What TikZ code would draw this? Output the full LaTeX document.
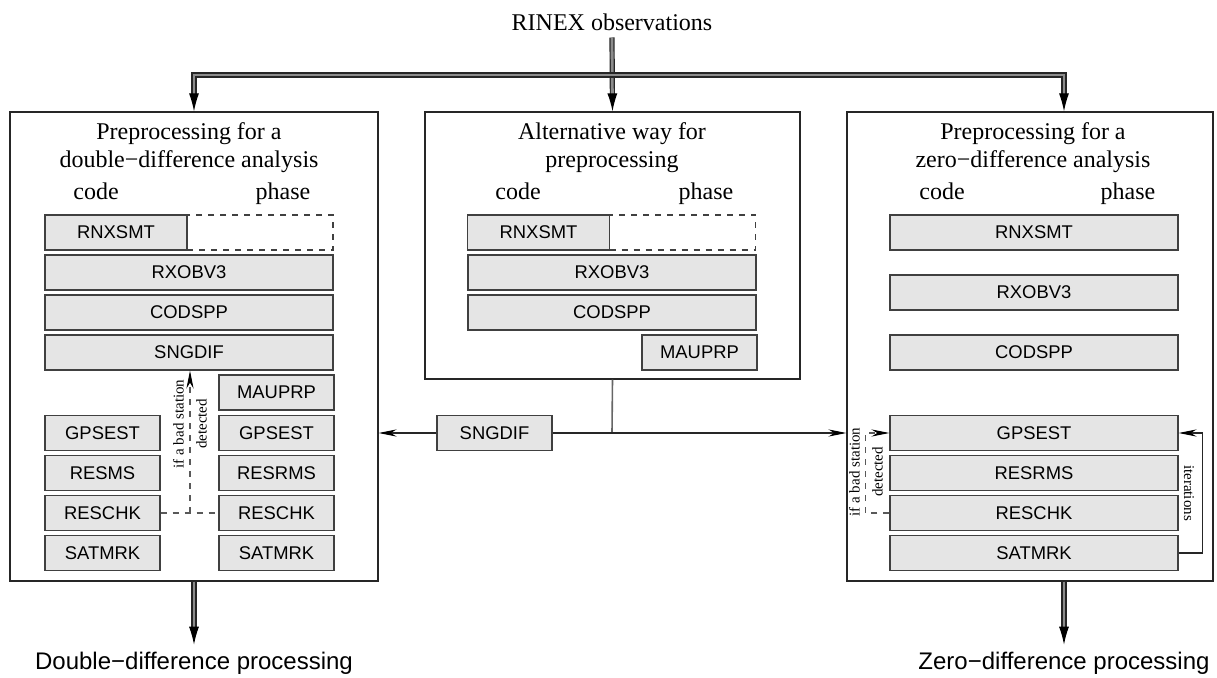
\documentclass[tikz,border=0pt]{standalone}
\usepackage{fontspec}
\setmainfont{Liberation Serif}
\setsansfont{Liberation Sans}
\usetikzlibrary{arrows.meta}

\tikzset{
  prog/.style={draw=black!75, fill=black!10, line width=0.6pt, font=\sffamily\fontsize{9.2}{10}\selectfont, minimum height=17.5pt, inner sep=0pt},
  wide/.style={prog, minimum width=144pt},
  narrow/.style={prog, minimum width=57.5pt},
  half/.style={prog, minimum width=71pt},
  ghost/.style={draw=black!75, dashed, line width=0.6pt, minimum width=73pt, minimum height=17.5pt, inner sep=0pt},
  panel/.style={draw=black!85, line width=0.6pt, inner sep=0pt},
  title/.style={font=\fontsize{12}{13.7}\selectfont, align=center},
  column/.style={font=\fontsize{12}{13.7}\selectfont, anchor=base},
  feed/.style={draw=black!85, double=black!45, double distance=1.4pt, line width=0.6pt, -{Latex[length=9pt,width=5pt,black]}},
  remark/.style={font=\fontsize{7.5}{11.5}\selectfont, align=center},
  back/.style={line width=0.6pt, draw=black!85, -{Stealth[length=9pt,width=3.6pt,black]}},
  bad/.style={back, dashed, draw=black!65},
}

\begin{document}
\begin{tikzpicture}[x=0.5pt, y=-0.5pt]
  \useasboundingbox (0,0) rectangle (1217,678);

  % input and outputs
  \node[title] (rinex) at (612,22) {RINEX observations};
  \node[font=\sffamily\fontsize{12}{14}\selectfont] (ddtext) at (194,663) {Double−difference processing};
  \node[font=\sffamily\fontsize{12}{14}\selectfont] (zdtext) at (1064,663) {Zero−difference processing};

  % the three panels
  \node[panel, minimum width=184pt, minimum height=234.5pt] (ddpanel) at (194,346.5) {};
  \node[panel, minimum width=187.5pt, minimum height=133.5pt] (altpanel) at (612.5,245.5) {};
  \node[panel, minimum width=183pt, minimum height=234.5pt] (zdpanel) at (1030,346.5) {};

  % double-difference panel
  \node[title] (ddtitle) at (189,147.5) {Preprocessing for a\\double−difference analysis};
  \node[column] (ddcode) at (96,200) {code};
  \node[column] (ddphase) at (283,200) {phase};
  \node[ghost] (ddsmtp) at (260,232.5) {};
  \node[half] (ddsmt) at (116,232.5) {RNXSMT};
  \node[wide] (ddobv) at (189,272.5) {RXOBV3};
  \node[wide] (ddspp) at (189,312.5) {CODSPP};
  \node[wide] (ddsng) at (189,352.5) {SNGDIF};
  \node[narrow] (ddmau) at (276.5,392.5) {MAUPRP};
  \node[narrow] (ddest1) at (102.5,433) {GPSEST};
  \node[narrow] (ddest2) at (276.5,433) {GPSEST};
  \node[narrow] (ddrms1) at (102.5,473) {RESMS};
  \node[narrow] (ddrms2) at (276.5,473) {RESRMS};
  \node[narrow] (ddchk1) at (102.5,513) {RESCHK};
  \node[narrow] (ddchk2) at (276.5,513) {RESCHK};
  \node[narrow] (ddmrk1) at (102.5,553) {SATMRK};
  \node[narrow] (ddmrk2) at (276.5,553) {SATMRK};

  \coordinate (ddbad) at (190,513);
  \draw[dashed, draw=black!65, line width=0.6pt] (ddchk1.east) -- (ddchk2.west);
  \draw[bad] (ddbad) -- (ddbad |- ddsng.south);
  \node[remark, rotate=90] (ddnote) at (190,424) {if a bad station\\detected};

  % alternative panel
  \node[title] (alttitle) at (612,147.5) {Alternative way for\\preprocessing};
  \node[column] (altcode) at (518,200) {code};
  \node[column] (altphase) at (706,200) {phase};
  \node[ghost] (altsmtp) at (682.5,232.5) {};
  \node[half] (altsmt) at (538.5,232.5) {RNXSMT};
  \node[wide] (altobv) at (612,272.5) {RXOBV3};
  \node[wide] (altspp) at (612,312.5) {CODSPP};
  \node[narrow] (altmau) at (699.5,352.5) {MAUPRP};

  % zero-difference panel
  \node[title] (zdtitle) at (1033,147.5) {Preprocessing for a\\zero−difference analysis};
  \node[column] (zdcode) at (942,200) {code};
  \node[column] (zdphase) at (1128,200) {phase};
  \node[wide] (zdsmt) at (1034,232.5) {RNXSMT};
  \node[wide] (zdobv) at (1034,292.5) {RXOBV3};
  \node[wide] (zdspp) at (1034,352.5) {CODSPP};
  \node[wide] (zdest) at (1034,433) {GPSEST};
  \node[wide] (zdrms) at (1034,473) {RESRMS};
  \node[wide] (zdchk) at (1034,513) {RESCHK};
  \node[wide] (zdmrk) at (1034,553) {SATMRK};

  \draw[bad] (zdchk.west) -- ++(-24,0) |- (zdest.west);
  \node[remark, rotate=90] (zdnote) at (866,472) {if a bad station\\detected};
  \draw[back] (zdmrk.east) -- ++(24,0) |- (zdest.east);
  \node[remark, rotate=-90] (zditer) at (1189,493) {iterations};

  % data flow
  \coordinate (split) at (612,75);
  \draw[feed] (rinex.south) -- (altpanel.north);
  \draw[feed] (split) -| (ddpanel.north -| ddtext);
  \draw[feed] (split) -| (zdpanel.north -| zdtext);
  \draw[feed] (ddpanel.south -| ddtext) -- (ddtext.north);
  \draw[feed] (zdpanel.south -| zdtext) -- (zdtext.north);

  \node[narrow] (sngdif) at (494.5,433) {SNGDIF};
  \coordinate (junc) at (612,433);
  \draw[line width=0.8pt, draw=black!60] (altpanel.south) -- (junc);
  \draw[line width=0.6pt, draw=black!85] (junc) -- (sngdif.east);
  \draw[back] (sngdif.west) -- (ddpanel.east |- sngdif);
  \draw[back] (junc) -- (zdpanel.west |- sngdif);
\end{tikzpicture}
\end{document}
